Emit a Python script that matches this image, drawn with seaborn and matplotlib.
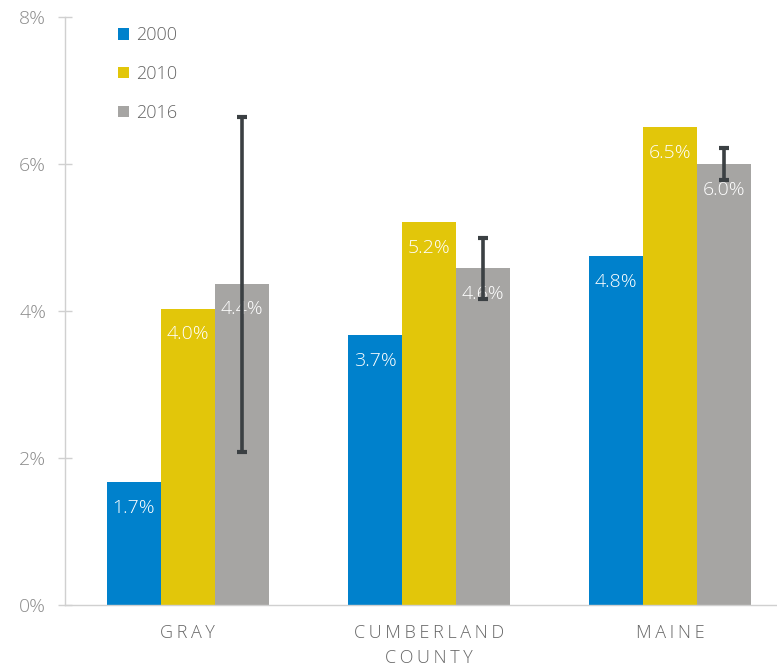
import matplotlib
matplotlib.use("Agg")
import matplotlib.pyplot as plt
import seaborn as sns
import pandas as pd
import numpy as np

categories = ["GRAY", "CUMBERLAND\nCOUNTY", "MAINE"]
years = ["2000", "2010", "2016"]
values_2000 = [1.67, 3.67, 4.75]
values_2010 = [4.03, 5.21, 6.50]
values_2016 = [4.37, 4.58, 6.00]
err_low_2016 = [2.08, 4.17, 5.78]
err_high_2016 = [6.64, 4.99, 6.22]
labels_2000 = ["1.7%", "3.7%", "4.8%"]
labels_2010 = ["4.0%", "5.2%", "6.5%"]
labels_2016 = ["4.4%", "4.6%", "6.0%"]
yticks = [0, 2, 4, 6, 8]
ytick_labels = ["0%", "2%", "4%", "6%", "8%"]

colors = ["#0081CC", "#E2C60A", "#A6A5A3"]

rows = []
for yr, vals in zip(years, [values_2000, values_2010, values_2016]):
    for c, v in zip(categories, vals):
        rows.append({"cat": c, "year": yr, "val": v})
df = pd.DataFrame(rows)

sns.set_theme(style="white")
plt.rcParams["font.family"] = ["Open Sans", "DejaVu Sans"]

fig = plt.figure(figsize=(7.77, 6.67), dpi=100)
ax = fig.add_axes([65/777, 62/667, 1 - 65/777, (605-17)/667])

sns.barplot(data=df, x="cat", y="val", hue="year", order=categories,
            hue_order=years, palette=colors, width=0.672, gap=0,
            errorbar=None, saturation=1, ax=ax, linewidth=0)

all_labels = [labels_2000, labels_2010, labels_2016]
for ci, cont in enumerate(ax.containers):
    for bi, bar in enumerate(cont):
        x = bar.get_x() + bar.get_width() / 2
        h = bar.get_height()
        ax.annotate(all_labels[ci][bi], (x, h), xytext=(0, -18.5),
                    textcoords="offset points", ha="center", va="center",
                    color="white", fontsize=14, fontweight="light")

# error bars on 2016
cont16 = ax.containers[2]
xs = [b.get_x() + b.get_width() / 2 for b in cont16]
vals = np.array(values_2016)
lo = vals - np.array(err_low_2016)
hi = np.array(err_high_2016) - vals
ax.errorbar(xs, vals, yerr=[lo, hi], fmt="none", ecolor="#3B4043",
            elinewidth=2.6, capsize=3.8, capthick=3, zorder=5)

ax.set_ylim(0, 8)
ax.set_xlim(-0.510, 2.444)
ax.set_yticks(yticks)
ax.set_yticklabels(ytick_labels)
ax.set_xticks(range(len(categories)))
spaced = ["\n".join("\u2009".join(line) for line in c.split("\n")) for c in categories]
ax.set_xticklabels(spaced, linespacing=1.45)
ax.set_xlabel("")
ax.set_ylabel("")
for s in ["top", "right"]:
    ax.spines[s].set_visible(False)
for s in ["left", "bottom"]:
    ax.spines[s].set_color("#D0D0D0")
    ax.spines[s].set_linewidth(1)
ax.tick_params(axis="y", direction="inout", length=10, width=1, color="#D0D0D0",
               labelsize=14, labelcolor="#8C8C8C", pad=8.5, left=True)
ax.tick_params(axis="x", length=0, labelsize=13, labelcolor="#666666", pad=14)
for t in ax.get_yticklabels() + ax.get_xticklabels():
    t.set_fontweight("light")

handles, labs = ax.get_legend_handles_labels()
leg = ax.legend(handles, labs, loc="upper left", bbox_to_anchor=(0.052, 1.012),
                frameon=False, fontsize=13, handlelength=0.6, handleheight=0.6,
                handletextpad=0.4, labelspacing=1.15, labelcolor="#666666")
for t in leg.get_texts():
    t.set_fontweight("light")

fig.savefig("out.png", dpi=100)
